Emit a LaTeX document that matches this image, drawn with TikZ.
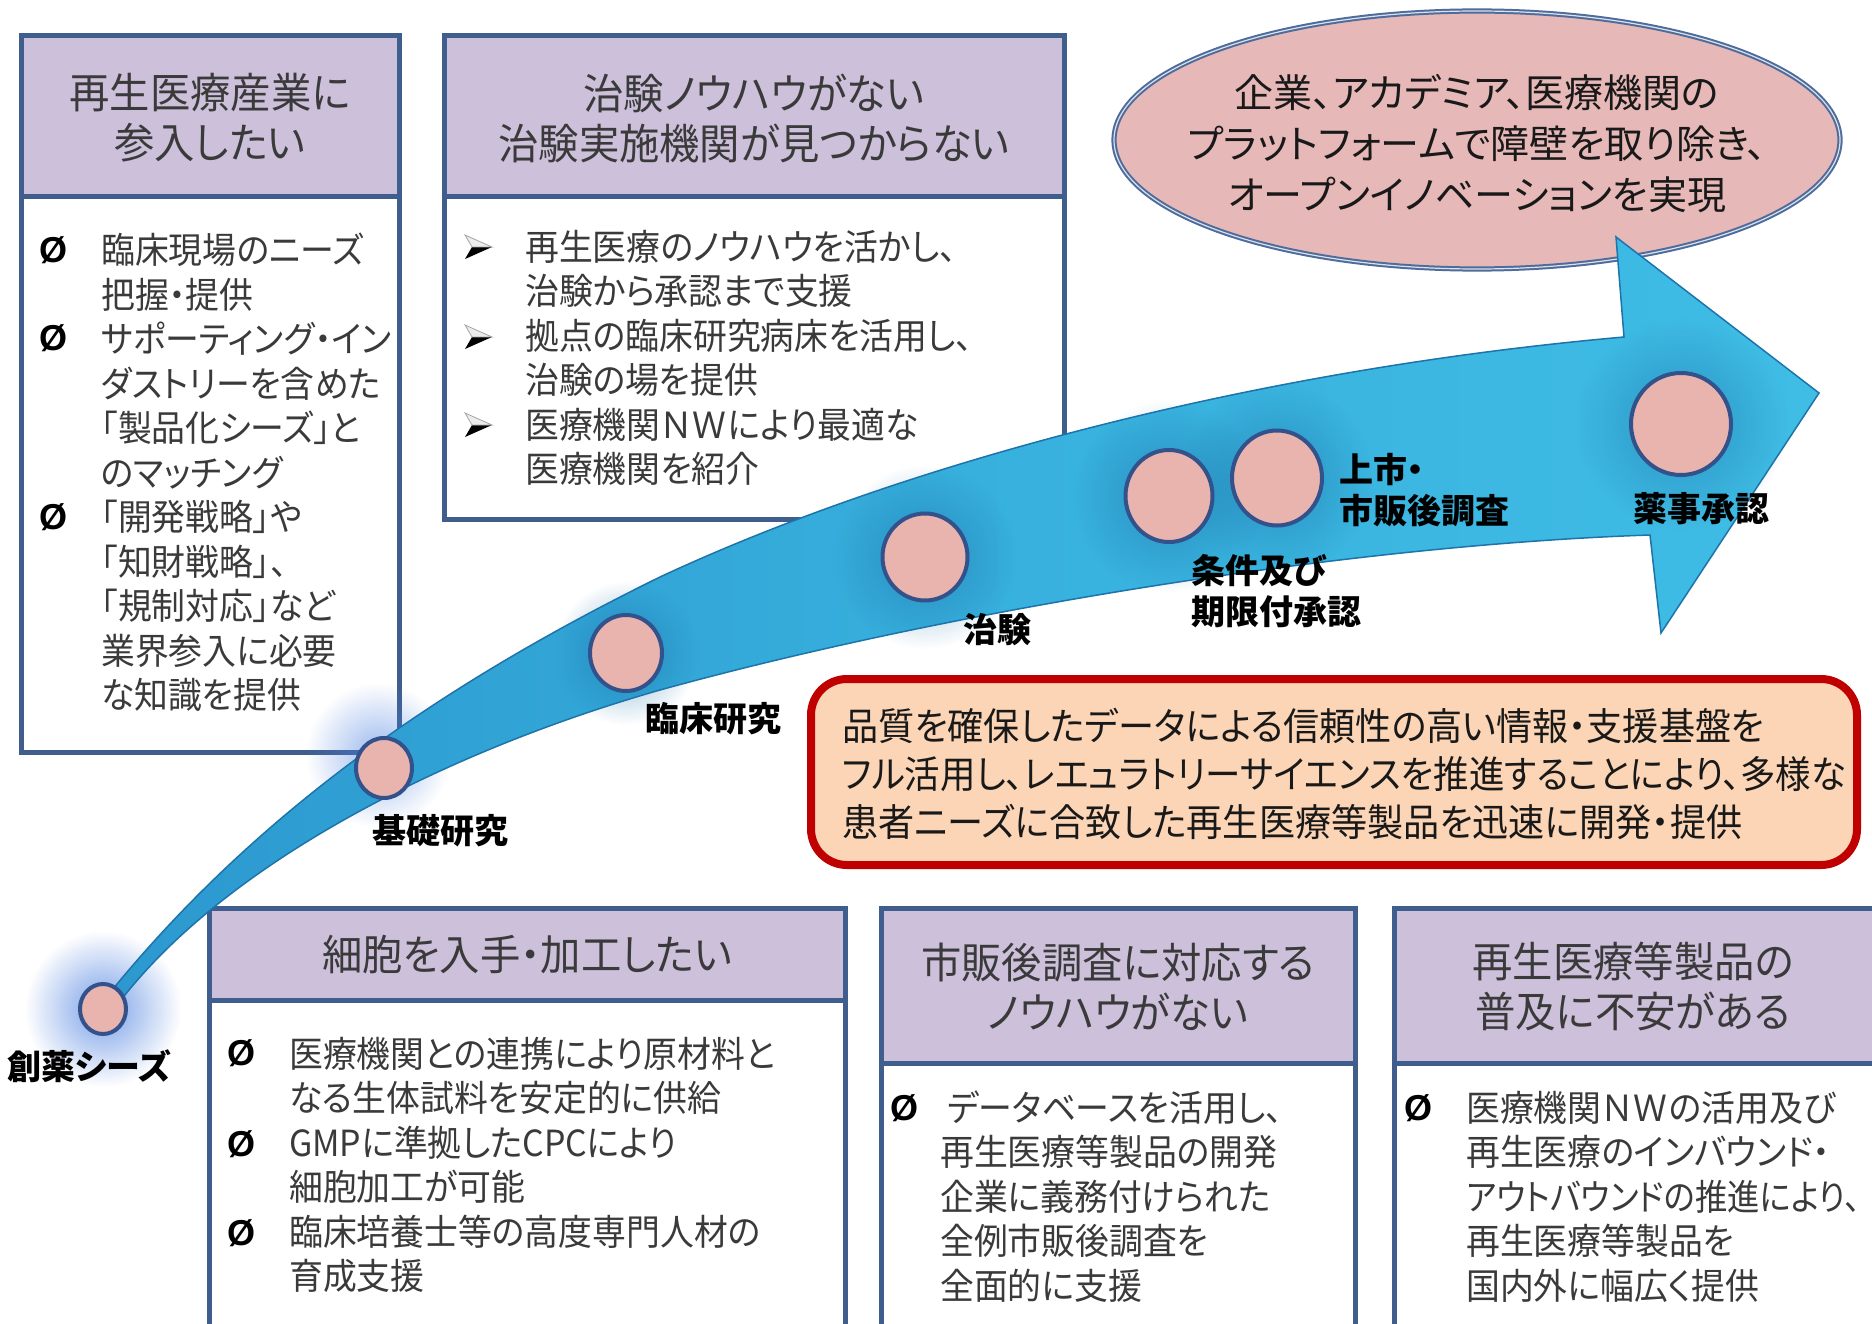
\documentclass[tikz,border=0pt]{standalone}
\usepackage{fontspec}
\newfontfamily\jp[RawFeature=+palt,FakeStretch=0.94]{Noto Sans CJK JP}
\newfontfamily\jph[RawFeature=+palt,FakeStretch=0.96]{Noto Sans CJK JP}
\newfontfamily\jpr[RawFeature=+palt,FakeStretch=0.95]{Noto Sans CJK JP}
\newfontfamily\jpl[RawFeature=+palt]{Noto Sans CJK JP}
\newfontfamily\lat{Liberation Sans}
\usetikzlibrary{fadings,shapes.geometric}
\definecolor{hdrfill}{HTML}{CCC0DA}
\definecolor{bdr}{HTML}{3F5E8E}
\definecolor{txtgray}{HTML}{3A3A3A}
\definecolor{ellfill}{HTML}{E6B9B8}
\definecolor{ellbdr}{HTML}{4D6B9B}
\definecolor{circfill}{HTML}{E9B4AE}
\definecolor{circbdr}{HTML}{33518A}
\definecolor{arrowdark}{HTML}{2C98CF}
\definecolor{arrowmid}{HTML}{37B0DD}
\definecolor{arrowlight}{HTML}{3FBDE5}
\definecolor{arrowrim}{HTML}{1D74AA}
\definecolor{redbdr}{HTML}{C00000}
\definecolor{redfill}{HTML}{FBD5B5}
\definecolor{glowblue}{HTML}{4A7FE0}
\tikzfading[name=glowfade, inner color=transparent!0, outer color=transparent!100]
\tikzset{abullet/.pic={
  \fill[black] (-6,0) -- (14,0) -- (-13,12) -- cycle;
  \filldraw[fill=gray!15, draw=gray!70, line width=0.8pt] (-6,0) -- (14,0) -- (-13,-12) -- cycle;
}}
\begin{document}
\begin{tikzpicture}[x=1pt,y=-1pt,
  boxframe/.style={draw=bdr,line width=5pt,fill=white},
  hdr/.style={draw=bdr,line width=5pt,fill=hdrfill},
  hdrtext/.style={font=\jph\fontsize{42}{50}\selectfont,text=txtgray,align=center,inner sep=0},
  bodytext/.style={font=\jp\fontsize{36}{44.5}\selectfont,text=txtgray,align=left,inner sep=0,anchor=west},
  bulletO/.style={font=\lat\bfseries\fontsize{36}{36}\selectfont,text=black,inner sep=0},
  stage/.style={ellipse,draw=circbdr,line width=4pt,fill=circfill,inner sep=0},
  lbl/.style={font=\jpl\bfseries\fontsize{34}{41}\selectfont,text=black,inner sep=0,align=left},
]
\useasboundingbox (0,0) rectangle (1872,1324);
\clip (0,0) rectangle (1872,1324);
\fill[white] (0,0) rectangle (1872,1324);

% ---- top-left box
\draw[boxframe] (21,36) rectangle (399,752);
\draw[hdr] (21,36) rectangle (399,197);
\node[hdrtext] (h1) at (210,118) {再生医療産業に\\参入したい};
\node[bodytext] (t1) at (101,472.5) {臨床現場のニーズ\\把握・提供\\サポーティング・イン\\ダストリーを含めた\\「製品化シーズ」と\\のマッチング\\「開発戦略」や\\「知財戦略」、\\「規制対応」など\\業界参入に必要\\な知識を提供};
\node[bulletO] (o11) at (54,250) {Ø};
\node[bulletO] (o12) at (54,338) {Ø};
\node[bulletO] (o13) at (54,517) {Ø};

% ---- top-middle box
\draw[boxframe] (444,36) rectangle (1064,519);
\draw[hdr] (444,36) rectangle (1064,197);
\node[hdrtext] (h2) at (754,118) {治験ノウハウがない\\治験実施機関が見つからない};
\node[bodytext] (t2) at (525,358) {再生医療のノウハウを活かし、\\治験から承認まで支援\\拠点の臨床研究病床を活用し、\\治験の場を提供\\医療機関ＮＷにより最適な\\医療機関を紹介};
\pic (ab1) at (478,247) {abullet};
\pic (ab2) at (478,337) {abullet};
\pic (ab3) at (478,425) {abullet};

% ---- goal ellipse
\node[ellipse,draw=ellbdr,line width=2pt,double=white!80!ellbdr,double distance=1.2pt,fill=ellfill,
      minimum width=726pt,minimum height=258pt,inner sep=0] (goal) at (1477,140) {};
\node[font=\jpl\fontsize{39}{51}\selectfont,text=black!90,align=center,inner sep=0] (goaltxt) at (1477,144)
  {企業、アカデミア、医療機関の\\プラットフォームで障壁を取り除き、\\オープンイノベーションを実現};

% ---- bottom boxes
\draw[boxframe] (209,908) rectangle (845,1345);
\draw[hdr] (209,908) rectangle (845,1000);
\node[hdrtext] (h3) at (527,955) {細胞を入手・加工したい};
\node[bodytext] (t3) at (289,1165) {医療機関との連携により原材料と\\なる生体試料を安定的に供給\\GMPに準拠したCPCにより\\細胞加工が可能\\臨床培養士等の高度専門人材の\\育成支援};
\node[bulletO] (o31) at (241,1053) {Ø};
\node[bulletO] (o32) at (241,1144) {Ø};
\node[bulletO] (o33) at (241,1233) {Ø};

\draw[boxframe] (881,908) rectangle (1355,1345);
\draw[hdr] (881,908) rectangle (1355,1063);
\node[hdrtext] (h4) at (1118,986.5) {市販後調査に対応する\\ノウハウがない};
\node[bodytext] (t4) at (940,1196.5) {\hspace{7pt}データベースを活用し、\\再生医療等製品の開発\\企業に義務付けられた\\全例市販後調査を\\全面的に支援};
\node[bulletO] (o41) at (904,1108) {Ø};

\draw[boxframe] (1394,908) rectangle (1890,1345);
\draw[hdr] (1394,908) rectangle (1890,1063);
\node[hdrtext] (h5) at (1633,986.5) {再生医療等製品の\\普及に不安がある};
\node[bodytext] (t5) at (1466,1196.5) {医療機関ＮＷの活用及び\\再生医療のインバウンド・\\\scalebox{0.955}[1]{アウトバウンドの推進により、}\\再生医療等製品を\\国内外に幅広く提供};
\node[bulletO] (o51) at (1418,1108) {Ø};

% ---- glows
\fill[glowblue,path fading=glowfade,fill opacity=0.75] (103,1009) circle (78pt);
\fill[glowblue,path fading=glowfade,fill opacity=0.55] (378,755) circle (72pt);

% ---- arrow
\path[left color=arrowdark,right color=arrowlight,middle color=arrowmid,draw=arrowrim,line width=1.5pt]
  (108,995) .. controls (250,820) and (430,690) .. (660,577)
  .. controls (900,465) and (1250,370) .. (1624,337)
  -- (1616,237) -- (1819,393) -- (1661,633) -- (1650,535)
  .. controls (1350,545) and (950,610) .. (660,690)
  .. controls (450,750) and (230,860) .. (121,1000) -- cycle;

% halos around stage circles
\foreach \cx/\cy/\r in {626/653/72, 925/557/92, 1169/496/96, 1277/478/96, 1681/424/106}
  \fill[arrowrim,path fading=glowfade,fill opacity=0.55] (\cx,\cy) circle (\r pt);

% ---- stage circles
\node[stage,minimum width=46pt,minimum height=50pt] (c0) at (103,1009) {};
\node[stage,minimum width=56pt,minimum height=60pt] (c1) at (384,768) {};
\node[stage,minimum width=72pt,minimum height=76pt] (c2) at (626,653) {};
\node[stage,minimum width=85pt,minimum height=87pt] (c3) at (925,557) {};
\node[stage,minimum width=87pt,minimum height=92pt] (c4) at (1169,496) {};
\node[stage,minimum width=90pt,minimum height=95pt] (c5) at (1277,478) {};
\node[stage,minimum width=100pt,minimum height=102pt] (c6) at (1681,424) {};

% ---- stage labels
\node[lbl] (l0) at (89,1066) {創薬シーズ};
\node[lbl] (l1) at (440,831) {基礎研究};
\node[lbl] (l2) at (713,719) {臨床研究};
\node[lbl] (l3) at (997,630) {治験};
\node[lbl,anchor=west] (l4) at (1191,591) {条件及び\\期限付承認};
\node[lbl,anchor=west] (l5) at (1339,490) {上市・\\市販後調査};
\node[lbl] (l6) at (1701,509) {薬事承認};

% ---- summary box
\node[draw=redbdr,line width=8pt,fill=redfill,rounded corners=36pt,minimum width=1046pt,minimum height=186pt,inner sep=0] (summary) at (1334,772) {};
\node[font=\jpr\fontsize{38}{48}\selectfont,text=black!90,align=left,inner sep=0,anchor=west] (sumtxt) at (842,774)
  {品質を確保したデータによる信頼性の高い情報・支援基盤を\\\scalebox{0.982}[1]{フル活用し、レエュラトリーサイエンスを推進することにより、多様な}\\患者ニーズに合致した再生医療等製品を迅速に開発・提供};
\end{tikzpicture}
\end{document}
